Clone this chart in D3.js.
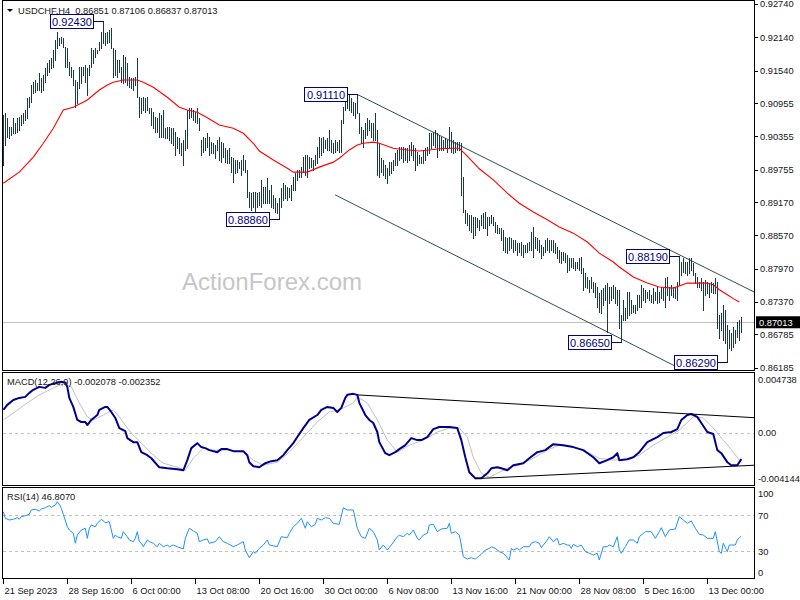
<!DOCTYPE html>
<html><head><meta charset="utf-8">
<script src="https://cdn.jsdelivr.net/npm/d3@7"></script>
<style>
html,body{margin:0;padding:0;background:#fff;}
svg{display:block;font-family:"Liberation Sans",Arial,sans-serif;}
</style></head><body>
<svg id="c" width="800" height="600"></svg>
<script>
// ---------- DATA ----------
const symbolTitle = "USDCHF,H4  0.86851 0.87106 0.86837 0.87013";
const macdTitle = "MACD(12,26,9) -0.002078 -0.002352";
const rsiTitle = "RSI(14) 46.8070";
const lastPrice = 0.87013;

const highs = [
0.9074,0.9078,0.9069,0.9052,0.9052,0.9069,0.9060,0.9069,0.9070,0.9074,
0.9078,0.9083,0.9105,0.9106,0.9128,0.9133,0.9137,0.9132,0.9150,0.9141,
0.9146,0.9159,0.9168,0.9173,0.9177,0.9191,0.9209,0.9224,0.9213,0.9215,
0.9213,0.9196,0.9195,0.9169,0.9160,0.9155,0.9137,0.9133,0.9160,0.9160,
0.9160,0.9164,0.9159,0.9164,0.9195,0.9191,0.9195,0.9191,0.9206,0.9224,
0.9243,0.9222,0.9224,0.9227,0.9231,0.9195,0.9191,0.9173,0.9173,0.9160,
0.9182,0.9178,0.9168,0.9142,0.9141,0.9141,0.9142,0.9177,0.9106,0.9105,
0.9106,0.9105,0.9106,0.9087,0.9087,0.9079,0.9070,0.9069,0.9078,0.9074,
0.9083,0.9050,0.9052,0.9052,0.9050,0.9050,0.9043,0.9034,0.9032,0.9023,
0.9029,0.9047,0.9083,0.9087,0.9087,0.9083,0.9079,0.9087,0.9069,0.9029,
0.9034,0.9032,0.9041,0.9034,0.9025,0.9023,0.9020,0.9029,0.9034,0.9025,
0.9023,0.9014,0.9011,0.9014,0.8998,0.8996,0.8993,0.8993,0.8989,0.8993,
0.9002,0.8993,0.8975,0.8935,0.8933,0.8935,0.8935,0.8933,0.8935,0.8957,
0.8944,0.8944,0.8960,0.8939,0.8948,0.8930,0.8924,0.8915,0.8924,0.8942,
0.8951,0.8948,0.8944,0.8942,0.8948,0.8962,0.8969,0.8975,0.8975,0.8980,
0.8998,0.9002,0.9002,0.8998,0.8996,0.8993,0.9002,0.9016,0.9034,0.9032,
0.9034,0.9029,0.9032,0.9047,0.9029,0.9023,0.9029,0.9025,0.9029,0.9065,
0.9088,0.9110,0.9106,0.9110,0.9105,0.9097,0.9096,0.9111,0.9078,0.9052,
0.9047,0.9060,0.9069,0.9065,0.9060,0.9060,0.9078,0.9047,0.9023,0.8996,
0.8993,0.8984,0.8978,0.8989,0.8989,0.8993,0.9005,0.9011,0.9016,0.9016,
0.9016,0.9014,0.9014,0.9020,0.9025,0.9020,0.9014,0.9007,0.9002,0.8998,
0.9011,0.9014,0.9016,0.9041,0.9041,0.9043,0.9047,0.9041,0.9038,0.9034,
0.9029,0.9032,0.9029,0.9052,0.9043,0.9029,0.9025,0.9025,0.9025,0.9023,
0.8962,0.8903,0.8897,0.8894,0.8894,0.8890,0.8890,0.8888,0.8885,0.8894,
0.8897,0.8899,0.8890,0.8890,0.8894,0.8890,0.8881,0.8876,0.8870,0.8870,
0.8867,0.8854,0.8852,0.8854,0.8852,0.8849,0.8849,0.8843,0.8843,0.8845,
0.8840,0.8840,0.8843,0.8845,0.8863,0.8872,0.8854,0.8852,0.8849,0.8840,
0.8836,0.8849,0.8852,0.8849,0.8849,0.8849,0.8843,0.8836,0.8831,0.8827,
0.8827,0.8825,0.8822,0.8816,0.8816,0.8816,0.8809,0.8809,0.8816,0.8818,
0.8798,0.8789,0.8782,0.8777,0.8782,0.8773,0.8771,0.8764,0.8753,0.8759,
0.8762,0.8768,0.8771,0.8764,0.8764,0.8768,0.8764,0.8759,0.8759,0.8713,
0.8741,0.8726,0.8755,0.8755,0.8741,0.8731,0.8731,0.8750,0.8750,0.8768,
0.8762,0.8759,0.8755,0.8759,0.8750,0.8762,0.8755,0.8764,0.8755,0.8764,
0.8762,0.8780,0.8782,0.8764,0.8768,0.8764,0.8762,0.8773,0.8819,0.8809,
0.8816,0.8809,0.8809,0.8816,0.8816,0.8807,0.8789,0.8782,0.8773,0.8780,
0.8773,0.8777,0.8773,0.8771,0.8773,0.8771,0.8780,0.8773,0.8713,0.8717,
0.8731,0.8722,0.8695,0.8686,0.8681,0.8692,0.8686,0.8701,0.8704,0.87106];

const lows = [
0.8984,0.9020,0.9034,0.9032,0.9038,0.9041,0.9041,0.9043,0.9047,0.9056,
0.9060,0.9065,0.9069,0.9088,0.9097,0.9114,0.9115,0.9119,0.9119,0.9115,
0.9119,0.9133,0.9146,0.9151,0.9159,0.9160,0.9173,0.9195,0.9200,0.9204,
0.9196,0.9160,0.9160,0.9146,0.9142,0.9128,0.9088,0.9096,0.9123,0.9132,
0.9146,0.9133,0.9110,0.9146,0.9160,0.9168,0.9178,0.9186,0.9191,0.9195,
0.9204,0.9200,0.9204,0.9205,0.9195,0.9142,0.9146,0.9142,0.9151,0.9133,
0.9132,0.9133,0.9128,0.9124,0.9123,0.9119,0.9128,0.9106,0.9070,0.9078,
0.9083,0.9079,0.9083,0.9078,0.9056,0.9050,0.9043,0.9043,0.9034,0.9034,
0.9034,0.9032,0.9032,0.9029,0.9023,0.9020,0.9002,0.9014,0.9005,0.9002,
0.8984,0.9011,0.9014,0.9069,0.9070,0.9065,0.9061,0.9060,0.9047,0.9002,
0.9007,0.9011,0.9016,0.9002,0.9005,0.9005,0.8996,0.9011,0.8993,0.8989,
0.8998,0.8989,0.8987,0.8987,0.8971,0.8953,0.8969,0.8971,0.8978,0.8966,
0.8975,0.8971,0.8926,0.8908,0.8903,0.8908,0.8899,0.8908,0.8912,0.8908,
0.8915,0.8915,0.8915,0.8915,0.8908,0.8906,0.8899,0.8897,0.8886,0.8908,
0.8921,0.8924,0.8921,0.8926,0.8921,0.8939,0.8939,0.8957,0.8962,0.8962,
0.8971,0.8966,0.8962,0.8978,0.8980,0.8975,0.8984,0.8987,0.8998,0.9002,
0.9007,0.9014,0.9011,0.9011,0.9007,0.9005,0.9007,0.9011,0.9007,0.9007,
0.9060,0.9083,0.9087,0.9083,0.9079,0.9074,0.9069,0.9078,0.9041,0.9023,
0.9016,0.9032,0.9038,0.9047,0.9034,0.9029,0.9029,0.8966,0.8962,0.8971,
0.8966,0.8960,0.8951,0.8966,0.8969,0.8975,0.8984,0.8984,0.8993,0.8996,
0.8989,0.8993,0.8989,0.8993,0.9002,0.8993,0.8975,0.8984,0.8987,0.8987,
0.8987,0.8993,0.9002,0.9005,0.9014,0.9020,0.9016,0.8998,0.9011,0.9011,
0.9011,0.9014,0.9007,0.9016,0.9007,0.9005,0.9007,0.9011,0.9011,0.8930,
0.8899,0.8879,0.8876,0.8867,0.8863,0.8852,0.8858,0.8872,0.8867,0.8876,
0.8870,0.8870,0.8858,0.8876,0.8879,0.8876,0.8863,0.8861,0.8861,0.8849,
0.8831,0.8827,0.8825,0.8831,0.8834,0.8827,0.8831,0.8822,0.8827,0.8822,
0.8818,0.8827,0.8827,0.8831,0.8831,0.8818,0.8834,0.8831,0.8827,0.8816,
0.8822,0.8827,0.8831,0.8827,0.8831,0.8827,0.8825,0.8816,0.8809,0.8807,
0.8813,0.8809,0.8791,0.8795,0.8800,0.8798,0.8795,0.8798,0.8795,0.8789,
0.8759,0.8764,0.8762,0.8755,0.8762,0.8755,0.8746,0.8728,0.8719,0.8717,
0.8731,0.8741,0.8683,0.8735,0.8741,0.8744,0.8735,0.8731,0.8690,0.8665,
0.8704,0.8704,0.8708,0.8713,0.8717,0.8719,0.8717,0.8722,0.8728,0.8728,
0.8741,0.8737,0.8744,0.8741,0.8737,0.8735,0.8741,0.8735,0.8737,0.8744,
0.8741,0.8728,0.8750,0.8741,0.8750,0.8746,0.8744,0.8741,0.8768,0.8786,
0.8791,0.8789,0.8786,0.8789,0.8795,0.8786,0.8771,0.8764,0.8764,0.8759,
0.8722,0.8750,0.8753,0.8746,0.8755,0.8753,0.8753,0.8690,0.8672,0.8686,
0.8668,0.8663,0.8629,0.8654,0.8650,0.8656,0.8663,0.8674,0.8668,0.86837];

// moving average (red) sampled at bar indices
const maIdx = [0,8,15,20,25,30,35,42,48,52,55,60,67,70,75,82,88,92,97,102,108,115,120,125,128,135,142,145,152,158,165,168,173,177,180,185,188,195,202,208,213,218,225,228,232,238,245,252,258,265,272,278,285,292,298,305,308,315,322,328,335,342,347,352,355,358,362,365,368];
const maVal = [0.8951,0.8971,0.8998,0.9023,0.9050,0.9083,0.9088,0.9101,0.9119,0.9128,0.9133,0.9137,0.9137,0.9133,0.9124,0.9106,0.9088,0.9083,0.9079,0.9069,0.9056,0.9050,0.9041,0.9023,0.9009,0.8993,0.8978,0.8971,0.8971,0.8980,0.8989,0.8996,0.9011,0.9020,0.9023,0.9025,0.9023,0.9014,0.9011,0.9009,0.9011,0.9013,0.9014,0.9014,0.9000,0.8977,0.8957,0.8933,0.8915,0.8899,0.8885,0.8872,0.8861,0.8845,0.8825,0.8809,0.8800,0.8782,0.8771,0.8764,0.8762,0.8771,0.8771,0.8771,0.8768,0.8759,0.8750,0.8743,0.8737];

// MACD main and signal
const macdIdx = [0,2,5,8,11,13,15,18,21,23,27,29,31,32,33,35,37,39,41,42,44,47,48,51,52,54,56,58,61,62,65,67,69,72,74,77,78,82,87,90,92,94,97,99,101,103,107,109,112,115,120,122,123,125,128,131,134,137,140,142,145,147,150,153,157,159,162,165,167,169,171,172,175,177,178,181,183,185,187,188,191,193,196,198,201,204,207,209,212,215,218,223,227,229,231,233,236,239,242,244,247,249,252,255,260,263,267,271,275,280,285,290,295,298,302,305,307,308,312,315,318,322,327,330,334,337,339,342,344,347,349,352,355,357,359,362,364,367,369];
const macdVal = [0.00180,0.00220,0.00259,0.00275,0.00283,0.00315,0.00339,0.00362,0.00354,0.00378,0.00394,0.00402,0.00394,0.00362,0.00275,0.00204,0.00101,0.00085,0.00085,0.00061,0.00101,0.00140,0.00180,0.00204,0.00204,0.00164,0.00117,0.00037,0.00013,-0.00042,-0.00074,-0.00074,-0.00153,-0.00177,-0.00201,-0.00256,-0.00272,-0.00280,-0.00288,-0.00296,-0.00216,-0.00121,-0.00082,-0.00113,-0.00121,-0.00137,-0.00153,-0.00129,-0.00129,-0.00145,-0.00145,-0.00177,-0.00232,-0.00264,-0.00272,-0.00240,-0.00224,-0.00216,-0.00177,-0.00137,-0.00082,-0.00034,0.00037,0.00101,0.00140,0.00180,0.00204,0.00196,0.00164,0.00196,0.00275,0.00299,0.00307,0.00299,0.00236,0.00140,0.00101,0.00077,0.00006,-0.00074,-0.00161,-0.00177,-0.00153,-0.00129,-0.00098,-0.00042,-0.00058,-0.00058,-0.00034,0.00029,0.00045,0.00045,0.00037,-0.00058,-0.00193,-0.00312,-0.00359,-0.00359,-0.00320,-0.00280,-0.00272,-0.00280,-0.00296,-0.00256,-0.00240,-0.00201,-0.00153,-0.00137,-0.00090,-0.00098,-0.00113,-0.00137,-0.00193,-0.00240,-0.00216,-0.00193,-0.00161,-0.00216,-0.00209,-0.00193,-0.00153,-0.00074,-0.00034,-0.00002,0.00006,0.00029,0.00101,0.00140,0.00148,0.00125,0.00077,0.00006,-0.00010,-0.00137,-0.00161,-0.00232,-0.00256,-0.00256,-0.002078];
const sigIdx = [0,5,12,18,25,30,34,38,42,45,50,55,58,62,65,70,75,80,87,91,95,100,105,112,120,125,130,137,143,150,157,163,168,175,177,182,187,192,197,203,210,217,223,228,232,235,239,243,248,253,258,265,272,278,285,292,298,305,312,318,325,332,338,345,350,355,360,365,369];
const sigVal = [0.00101,0.00156,0.00236,0.00299,0.00354,0.00386,0.00362,0.00236,0.00125,0.00101,0.00140,0.00180,0.00125,0.00037,-0.00018,-0.00098,-0.00177,-0.00240,-0.00272,-0.00296,-0.00201,-0.00121,-0.00137,-0.00137,-0.00153,-0.00216,-0.00256,-0.00232,-0.00153,-0.00034,0.00085,0.00164,0.00180,0.00236,0.00283,0.00236,0.00101,-0.00058,-0.00153,-0.00098,-0.00058,0.00006,0.00037,0.00037,-0.00034,-0.00193,-0.00320,-0.00351,-0.00312,-0.00272,-0.00256,-0.00201,-0.00137,-0.00098,-0.00113,-0.00153,-0.00201,-0.00216,-0.00209,-0.00177,-0.00098,-0.00034,0.00021,0.00125,0.00117,0.00037,-0.00058,-0.00153,-0.002352];

// RSI(14)
const rsiIdx = [0,1,3,5,7,8,9,11,13,14,16,18,19,21,23,24,26,27,28,29,30,32,33,35,36,37,39,41,42,43,44,46,47,49,51,53,55,56,57,59,60,62,63,65,66,67,68,69,70,72,73,75,77,78,80,82,83,85,87,90,91,93,95,97,98,100,102,103,106,108,110,112,115,117,120,121,123,125,126,128,130,132,133,135,137,139,142,143,145,147,149,151,152,154,156,157,159,161,163,165,168,170,172,175,177,179,181,183,185,187,188,190,192,194,197,198,200,202,203,205,207,208,210,212,213,215,217,219,222,223,224,226,228,229,230,232,234,236,238,239,241,243,244,246,248,250,253,254,255,257,258,260,263,264,266,268,269,272,273,275,277,278,280,282,283,284,285,287,289,291,293,295,297,298,300,302,303,305,307,308,309,311,313,315,317,318,321,324,326,328,329,331,333,336,338,340,342,344,346,348,350,352,355,356,358,359,360,362,363,366,367,368,369];
const rsiVal = [74.0,66.7,64.8,65.6,67.3,65.6,68.4,69.6,71.1,75.9,76.7,74.8,77.0,78.4,80.7,78.9,81.4,85.1,82.2,77.8,71.1,57.3,53.7,50.0,38.9,48.1,53.7,55.6,44.4,55.6,59.2,57.3,61.1,65.6,61.8,62.9,44.4,48.1,46.2,44.4,51.8,46.2,42.6,40.7,44.4,51.8,40.7,38.9,35.1,42.6,40.7,38.9,35.1,38.9,35.1,37.0,35.1,37.0,35.1,32.6,44.4,55.6,52.6,50.0,40.7,42.6,43.7,38.9,40.7,46.2,40.7,38.9,35.1,37.0,40.7,31.4,22.9,29.6,27.8,33.3,37.0,42.6,37.0,36.2,35.1,46.2,45.1,50.0,57.3,61.1,66.7,55.6,62.9,57.3,60.0,66.7,64.8,67.3,66.7,61.1,60.0,78.4,75.9,75.9,55.6,46.2,44.4,55.6,51.8,42.6,31.4,37.0,31.4,37.0,46.2,47.8,46.2,50.0,48.1,53.7,44.4,42.6,48.1,50.0,59.2,60.0,51.8,54.8,55.6,61.1,50.0,51.8,48.1,37.0,24.0,21.4,22.9,21.4,25.1,26.7,31.4,33.3,35.1,33.3,29.6,27.8,20.3,33.3,31.4,33.3,31.4,35.1,35.1,38.9,40.7,38.9,34.0,42.6,46.2,40.7,44.4,37.0,38.9,37.0,37.0,33.3,37.8,35.1,37.0,29.6,27.8,25.9,27.8,20.3,35.1,35.1,37.0,35.1,46.2,31.4,27.8,35.1,42.6,42.6,38.9,46.2,51.8,51.8,44.4,51.8,56.2,46.2,53.7,54.8,68.4,64.8,61.1,63.7,55.6,48.9,48.1,44.4,44.4,51.8,29.6,27.8,38.9,29.6,37.0,37.0,42.6,45.1,46.8];

// trend lines: [barIndex, value]
const channelUpper = [[177,0.9111],[375.4,0.8755]];
const channelLower = [[165.9,0.8930],[345,0.8605]];
const macdUpperLine = [[176.8,0.00299],[375.4,0.00119]];
const macdLowerLine = [[235.9,-0.00362],[375.4,-0.00256]];

// swing labels
const swingIdx = [50,177,138,338,309,362];
const swingPrice = [0.92430,0.91110,0.88860,0.88190,0.86650,0.86290];

// axes
const priceTicks = [0.92740,0.92140,0.91540,0.90955,0.90355,0.89755,0.89170,0.88570,0.87970,0.87370,0.86785,0.86185];
const macdTicks = [0.004738,0.0,-0.004144];
const macdTickLabels = ["0.004738","0.00","-0.004144"];
const rsiLevels = [70,30];
const rsiTicks = [100,70,30,0];
const xTickIdx = [0,32,64,96,128,160,192,224,256,288,320,352];
const xTickLabels = ["21 Sep 2023","28 Sep 16:00","6 Oct 00:00","13 Oct 08:00","20 Oct 16:00","30 Oct 00:00","6 Nov 08:00","13 Nov 16:00","21 Nov 00:00","28 Nov 08:00","5 Dec 16:00","13 Dec 00:00"];

// ---------- LAYOUT ----------
const L = 2.5, R = 754.5;
const mainT = 0.5, mainB = 370.5, macdT = 372.5, macdB = 485.5, rsiT = 487.5, rsiB = 578.5;

const svg = d3.select("#c");
svg.append("rect").attr("width",800).attr("height",600).attr("fill","#fff");

const x = d3.scaleLinear().domain([0,369]).range([3.3,741.3]);
const y = d3.scaleLinear().domain([0.86185,0.92740]).range([367.7,4]);
const ym = d3.scaleLinear().domain([-0.004144,0.004738]).range([485.3,372.7]);
const yr = d3.scaleLinear().domain([0,100]).range([578.3,488.3]);

const defs = svg.append("defs");
function clip(id,t,b){ defs.append("clipPath").attr("id",id).append("rect").attr("x",L).attr("y",t).attr("width",R-L).attr("height",b-t); }
clip("cm",mainT,mainB); clip("cd",macdT,macdB); clip("cr",rsiT,rsiB);

const txt = "#141414";
const fs = 9.3;

// watermark
svg.append("text").attr("x",272).attr("y",290).attr("text-anchor","middle")
  .attr("font-size",24).attr("fill","#c6c6c6").text("ActionForex.com");

// ---------- MAIN PANEL ----------
const gm = svg.append("g").attr("clip-path","url(#cm)");
// current price line
gm.append("line").attr("x1",L).attr("x2",R).attr("y1",Math.round(y(lastPrice))+0.5).attr("y2",Math.round(y(lastPrice))+0.5)
  .attr("stroke","#c0c0c0").attr("shape-rendering","crispEdges");

// channel lines
const lineP = d3.line().x(d=>x(d[0])).y(d=>y(d[1]));
[channelUpper,channelLower].forEach(c=>{
  gm.append("path").attr("d",lineP(c)).attr("fill","none").attr("stroke","#2f4f4f").attr("stroke-width",1);
});

// bars
gm.append("g").selectAll("line").data(highs.map((h,i)=>({i,h,l:lows[i]}))).join("line")
  .attr("x1",d=>Math.round(x(d.i))+0.5).attr("x2",d=>Math.round(x(d.i))+0.5)
  .attr("y1",d=>Math.round(y(d.h))).attr("y2",d=>Math.round(y(d.l))+1)
  .attr("stroke","#17384e").attr("stroke-width",1).attr("shape-rendering","crispEdges");

// MA
gm.append("path").attr("d",lineP(d3.zip(maIdx,maVal))).attr("fill","none").attr("stroke","#ff0000").attr("stroke-width",1.1);

// swing labels
swingIdx.forEach((si,k)=>{
  const bx = x(si), py = Math.round(y(swingPrice[k]))+0.5;
  const w = 43, h = 14, rx = Math.round(bx-10-w)+0.5;
  svg.append("line").attr("x1",rx+w).attr("x2",Math.round(bx)+0.5).attr("y1",py).attr("y2",py)
    .attr("stroke","#000080").attr("shape-rendering","crispEdges");
  svg.append("rect").attr("x",rx).attr("y",py-h/2).attr("width",w).attr("height",h)
    .attr("fill","#fff").attr("stroke","#000080").attr("shape-rendering","crispEdges");
  svg.append("text").attr("x",rx+w/2).attr("y",py+4).attr("text-anchor","middle")
    .attr("font-size",11).attr("fill","#000080").text(swingPrice[k].toFixed(5));
});

// header
svg.append("path").attr("d","M7,9 L13,9 L10,12 Z").attr("fill","#000");
svg.append("text").attr("x",18).attr("y",13.5).attr("font-size",fs).attr("fill",txt)
  .style("white-space","pre").text(symbolTitle);

// right price axis
const ax = svg.append("g").attr("transform",`translate(${R},0)`)
  .call(d3.axisRight(y).tickValues(priceTicks).tickSize(3).tickFormat(d=>d.toFixed(5)));
ax.select(".domain").remove();
ax.selectAll("line").attr("stroke","#000").attr("shape-rendering","crispEdges");
ax.selectAll("text").attr("font-size",fs).attr("fill",txt).attr("font-family","Liberation Sans, Arial, sans-serif").attr("x",5.5);

// last price tag
const lpY = y(lastPrice);
svg.append("rect").attr("x",756).attr("y",lpY-5.5).attr("width",44).attr("height",12).attr("fill","#000");
svg.append("text").attr("x",759).attr("y",lpY+4).attr("font-size",fs).attr("fill","#fff").text(lastPrice.toFixed(5));

// ---------- MACD ----------
const gd = svg.append("g").attr("clip-path","url(#cd)");
gd.append("line").attr("x1",L).attr("x2",R).attr("y1",Math.round(ym(0))+0.5).attr("y2",Math.round(ym(0))+0.5)
  .attr("stroke","#c0c0c0").attr("stroke-dasharray","3,3").attr("shape-rendering","crispEdges");
svg.append("text").attr("x",7).attr("y",385).attr("font-size",fs).attr("fill",txt).text(macdTitle);
const lineM = d3.line().x(d=>x(d[0])).y(d=>ym(d[1]));
gd.append("path").attr("d",lineM(d3.zip(sigIdx,sigVal))).attr("fill","none").attr("stroke","#c0c0c0").attr("stroke-width",1);
gd.append("path").attr("d",lineM(d3.zip(macdIdx,macdVal))).attr("fill","none").attr("stroke","#00008b").attr("stroke-width",2).attr("stroke-linejoin","round");
[macdUpperLine,macdLowerLine].forEach(c=>{
  gd.append("path").attr("d",lineM(c)).attr("fill","none").attr("stroke","#000").attr("stroke-width",1);
});
const macdLabelY = [379.3+3.3, null, 478.3+3.3];
macdTicks.forEach((v,k)=>{
  const yy = k===1 ? ym(v)+3.3 : macdLabelY[k];
  svg.append("text").attr("x",758).attr("y",yy).attr("font-size",fs).attr("fill",txt).text(macdTickLabels[k]);
});

// ---------- RSI ----------
const gr = svg.append("g").attr("clip-path","url(#cr)");
rsiLevels.forEach(v=>{
  gr.append("line").attr("x1",L).attr("x2",R).attr("y1",Math.round(yr(v))+0.5).attr("y2",Math.round(yr(v))+0.5)
    .attr("stroke","#c0c0c0").attr("stroke-dasharray","3,3").attr("shape-rendering","crispEdges");
});
svg.append("text").attr("x",7).attr("y",500).attr("font-size",fs).attr("fill",txt).text(rsiTitle);
const lineR = d3.line().x(d=>x(d[0])).y(d=>yr(d[1]));
gr.append("path").attr("d",lineR(d3.zip(rsiIdx,rsiVal))).attr("fill","none").attr("stroke","#1e90ff").attr("stroke-width",1);
rsiTicks.forEach(v=>{
  let yy = yr(v)+3.3;
  if (v===100) yy = 494+3.3;
  if (v===0) yy = 572.7+3.3;
  svg.append("text").attr("x",758).attr("y",yy).attr("font-size",fs).attr("fill",txt).text(v);
});

// ---------- FRAMES ----------
[[mainT,mainB],[macdT,macdB],[rsiT,rsiB]].forEach(([t,b])=>{
  svg.append("rect").attr("x",L).attr("y",t).attr("width",R-L).attr("height",b-t)
    .attr("fill","none").attr("stroke","#000").attr("shape-rendering","crispEdges");
});

// ---------- X AXIS ----------
const xa = svg.append("g").attr("transform",`translate(0,${rsiB})`)
  .call(d3.axisBottom(x).tickValues(xTickIdx).tickSize(5).tickFormat((d,k)=>xTickLabels[k]));
xa.select(".domain").remove();
xa.selectAll("line").attr("stroke","#000").attr("shape-rendering","crispEdges")
  .attr("transform",function(){ return null; });
xa.selectAll(".tick").attr("transform",d=>`translate(${Math.round(x(d))+0.5},0)`);
xa.selectAll("text").attr("font-size",fs).attr("fill",txt).attr("font-family","Liberation Sans, Arial, sans-serif")
  .attr("text-anchor","start").attr("x",1).attr("y",9).attr("dy","0.71em");
</script>
</body></html>
